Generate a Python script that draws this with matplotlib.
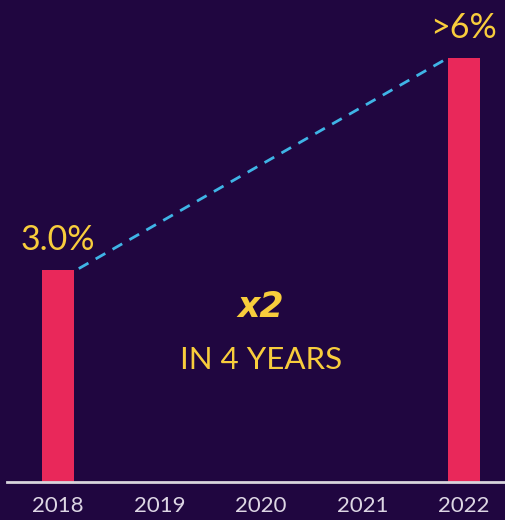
import matplotlib
matplotlib.use("Agg")
import matplotlib.pyplot as plt

# Data
years = ["2018", "2019", "2020", "2021", "2022"]
share = [3.0, None, None, None, 6.0]
labels = ["3.0%", None, None, None, ">6%"]

BG = "#200640"
BAR = "#e9285a"
GOLD = "#f8cd3c"
DASH = "#3fb4e6"
TICK = "#ddd6e4"

fig = plt.figure(figsize=(5.06, 5.20), dpi=100, facecolor=BG)
ax = fig.add_axes([7 / 506, 1 - 482 / 520, 499 / 506, 482 / 520])
ax.set_facecolor(BG)

x = list(range(len(years)))
bw = 0.31
for xi, v, lab in zip(x, share, labels):
    if v is None:
        continue
    ax.bar(xi, v, width=bw, color=BAR, zorder=2)
    ax.text(xi, v + 0.2, lab, ha="center", va="bottom", color=GOLD,
            fontsize=24.5, family="Lato")

# dashed trend from first to last bar
x0, x1 = x[0] + bw / 2 + 0.05, x[-1] - bw / 2 - 0.04
ax.plot([x0, x1], [share[0] + 0.02, share[-1] - 0.03], color=DASH, lw=2,
        dashes=(4, 3), zorder=3)

ax.text(2, 2.47, "x2", ha="center", va="center", color=GOLD, fontsize=25,
        fontweight="heavy", style="italic", family="DejaVu Sans")
ax.text(2, 1.72, "IN 4 YEARS", ha="center", va="center", color=GOLD,
        fontsize=22.5, family="Lato")

ax.set_xlim(-0.502, 4.414)
ax.set_ylim(0, 482 / (424 / 6))
ax.set_xticks(x)
ax.set_xticklabels(years, color=TICK, fontsize=16, family="Lato")
ax.tick_params(axis="x", length=0, pad=10)
ax.set_yticks([])
for s in ["top", "right", "left"]:
    ax.spines[s].set_visible(False)
ax.spines["bottom"].set_color("#d8d4dc")
ax.spines["bottom"].set_linewidth(2)

fig.savefig("out.png", dpi=100, facecolor=BG)
